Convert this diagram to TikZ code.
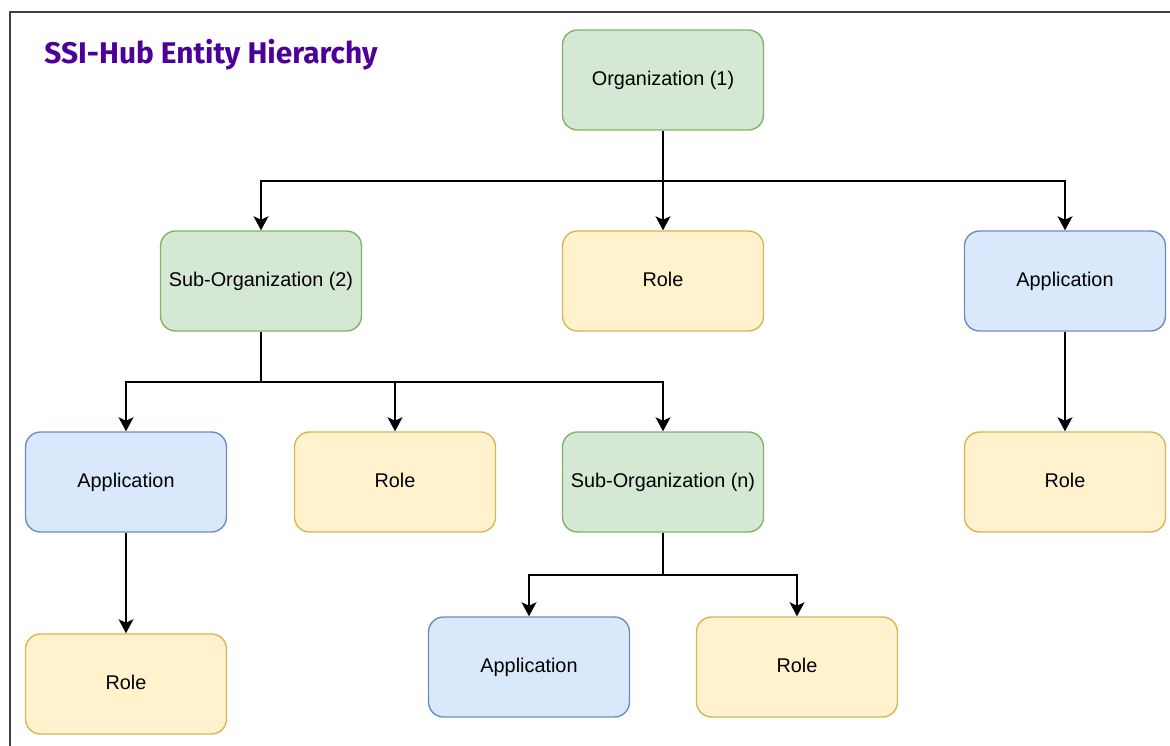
\documentclass[tikz,border=0pt]{standalone}
\usepackage{fontspec}
\setmainfont{Liberation Sans}
\newfontfamily\titlefont{Fira Sans}
\usepackage{tikz}
\usetikzlibrary{arrows.meta,positioning,calc}
\definecolor{orgfill}{HTML}{D5E8D4}
\definecolor{orgline}{HTML}{82B366}
\definecolor{rolefill}{HTML}{FFF2CC}
\definecolor{roleline}{HTML}{D6B656}
\definecolor{appfill}{HTML}{DAE8FC}
\definecolor{appline}{HTML}{6C8EBF}
\definecolor{titlepurple}{RGB}{76,0,153}
\tikzstyle{box}=[draw,rounded corners=0.3cm,minimum width=4.02cm,minimum height=2cm,inner sep=0pt,text height=8.5pt,text depth=2.5pt,line width=0.8pt,font=\fontsize{11.3}{13}\selectfont]
\tikzstyle{org}=[box,fill=orgfill,draw=orgline]
\tikzstyle{role}=[box,fill=rolefill,draw=roleline]
\tikzstyle{app}=[box,fill=appfill,draw=appline]
\tikzstyle{link}=[-{Stealth[length=8pt,width=8.5pt,inset=2pt]},line width=0.9pt]

\begin{document}
\begin{tikzpicture}[x=0.02cm,y=-0.02cm]
\useasboundingbox (0,0) rectangle (1170,746);
\draw[line width=0.9pt,black!75] (10,746) -- (10,12) -- (1170,12);
\node[anchor=west,inner sep=0pt,text=titlepurple,font=\titlefont\bfseries\fontsize{17}{20}\selectfont] (title) at (44,55) {SSI-Hub Entity Hierarchy};

% top level
\node [org] (org) at (663,80) {Organization (1)};
\node [org] (sub2) at (261,281) {Sub-Organization (2)};
\node [role] (orgrole) at (663,281) {Role};
\node [app] (orgapp) at (1065,281) {Application};
\node [role] (orgapprole) at (1065,482) {Role};

% under sub-organization (2)
\node [app] (subapp) at (126,482) {Application};
\node [role] (subapprole) at (126,684) {Role};
\node [role] (subrole) at (395,482) {Role};
\node [org] (subn) at (663,482) {Sub-Organization (n)};

% under sub-organization (n)
\node [app] (napp) at (529,667) {Application};
\node [role] (nrole) at (797,667) {Role};

\coordinate (fork1) at (663,181);
\coordinate (fork2) at (261,382);
\coordinate (fork3) at (663,575);

\draw[link] (org.south) -- (fork1) -| (sub2.north);
\draw[link] (org.south) -- (orgrole.north);
\draw[link] (fork1) -| (orgapp.north);
\draw[link] (orgapp) -- (orgapprole);

\draw[link] (sub2.south) -- (fork2) -| (subapp.north);
\draw[link] (fork2) -| (subrole.north);
\draw[link] (fork2) -| (subn.north);
\draw[link] (subapp) -- (subapprole);

\draw[link] (subn.south) -- (fork3) -| (napp.north);
\draw[link] (fork3) -| (nrole.north);
\end{tikzpicture}
\end{document}
